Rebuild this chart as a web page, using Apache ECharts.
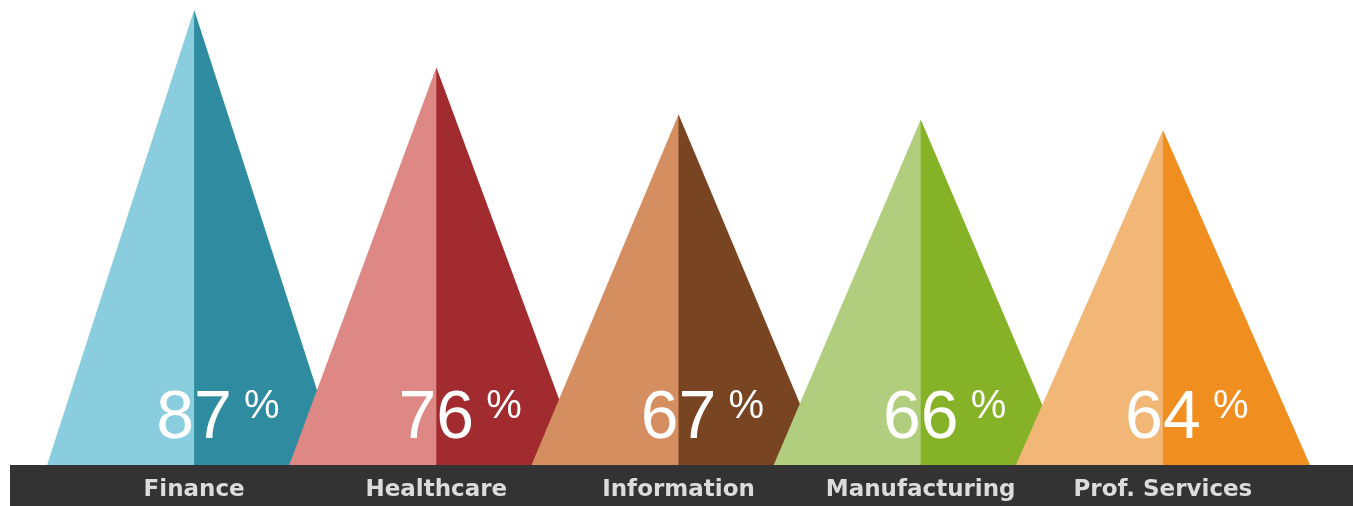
<!DOCTYPE html>
<html>
<head>
<meta charset="utf-8">
<script src="https://cdn.jsdelivr.net/npm/echarts@6/dist/echarts.min.js"></script>
<style>
  html, body { margin: 0; padding: 0; background: #ffffff; }
  #chart { width: 1353px; height: 506px; }
</style>
</head>
<body>
<div id="chart"></div>
<script>
// Share of respondents per industry
const categories = ['Finance', 'Healthcare', 'Information', 'Manufacturing', 'Prof. Services'];
const shares = [87, 76, 67, 66, 64];
const lightColors = ['#89CDDE', '#DE8886', '#D48E60', '#B0CE7E', '#F2B776'];
const darkColors = ['#2E8BA0', '#A12B2E', '#794422', '#85B226', '#F08F20'];

const chart = echarts.init(document.getElementById('chart'), null, { renderer: 'canvas' });

// Two-tone triangle: light full shape, darker right half laid over it
function renderPeak(params, api) {
  const i = params.dataIndex;
  const apex = api.coord([api.value(0), api.value(1)]);
  const base = api.coord([api.value(0), 0]);
  const half = api.size([1, 0])[0] * 0.607;
  return {
    type: 'group',
    children: [
      {
        type: 'polygon',
        shape: { points: [[base[0] - half, base[1]], [apex[0], apex[1]], [base[0] + half, base[1]]] },
        style: { fill: lightColors[i] }
      },
      {
        type: 'polygon',
        shape: { points: [[apex[0], base[1]], [apex[0], apex[1]], [base[0] + half, base[1]]] },
        style: { fill: darkColors[i] }
      }
    ]
  };
}

// Big percentage figure with a raised % sign
function renderValue(params, api) {
  const base = api.coord([api.value(0), 0]);
  const v = api.value(1);
  return {
    type: 'group',
    children: [
      {
        type: 'text',
        x: base[0],
        y: base[1] - 46,
        style: {
          text: String(v),
          font: '68px "Liberation Sans", Arial, sans-serif',
          fill: '#ffffff',
          align: 'center',
          verticalAlign: 'middle'
        }
      },
      {
        type: 'text',
        x: base[0] + 50,
        y: base[1] - 58,
        style: {
          text: '%',
          font: '40px "Liberation Sans", Arial, sans-serif',
          fill: '#ffffff',
          align: 'left',
          verticalAlign: 'middle'
        }
      }
    ]
  };
}

const seriesData = shares.map((v, i) => [i, v]);

chart.setOption({
  backgroundColor: '#ffffff',
  animation: false,
  grid: { left: 73, right: 69, top: 10, bottom: 41 },
  graphic: [
    {
      type: 'rect',
      z: -10,
      shape: { x: 10, y: 465, width: 1343, height: 41 },
      style: { fill: '#333333' }
    }
  ],
  xAxis: {
    type: 'category',
    data: categories,
    axisLine: { show: false },
    axisTick: { show: false },
    axisLabel: {
      interval: 0,
      hideOverlap: false,
      margin: 14,
      color: '#dcdcdc',
      fontSize: 23,
      fontWeight: 'bold',
      fontFamily: '"DejaVu Sans", sans-serif'
    }
  },
  yAxis: {
    type: 'value',
    min: 0,
    max: 'dataMax',
    show: false,
    splitLine: { show: false }
  },
  series: [
    {
      type: 'custom',
      renderItem: renderPeak,
      data: seriesData,
      z: 2
    },
    {
      type: 'custom',
      renderItem: renderValue,
      data: seriesData,
      z: 3
    }
  ]
});
</script>
</body>
</html>
